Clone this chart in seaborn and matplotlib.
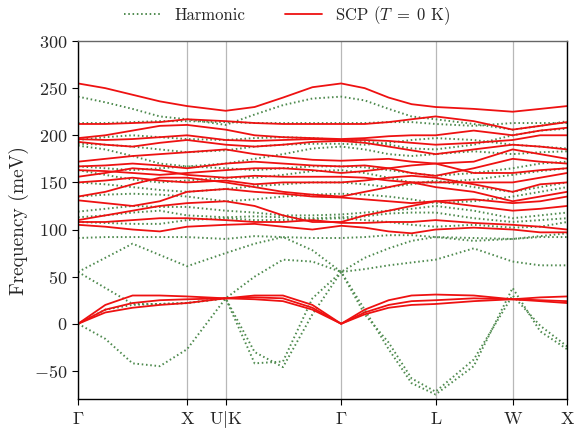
import numpy as np
import pandas as pd
import matplotlib
matplotlib.use("Agg")
import matplotlib.pyplot as plt
import seaborn as sns
from matplotlib.lines import Line2D

# ---- path (high-symmetry points, FCC distances in 2pi/a) ----
tick_pos = [0.0, 1.0, 1.354, 2.414, 3.280, 3.987, 4.487]
tick_labels = [r"$\Gamma$", "X", r"U$|$K", r"$\Gamma$", "L", "W", "X"]
kpts = [0.0, 0.25, 0.5, 0.75, 1.0, 1.354, 1.62, 1.88, 2.15, 2.414,
        2.63, 2.85, 3.06, 3.28, 3.63, 3.987, 4.24, 4.487]

# ---- harmonic bands (meV) ----
harm_1 = [0, -16, -42, -45, -27, 27, -42, -40, 27, 55, 15, -27, -63, -75, -45, 38, -8, -27]
harm_2 = [0, 15, 20, 21, 22, 27, -30, -46, 10, 55, 10, -20, -58, -72, -38, 30, -2, -24]
harm_3 = [55, 38, 21, 21, 22, 27, 50, 68, 66, 55, 58, 62, 65, 68, 80, 66, 62, 62]
harm_4 = [55, 70, 85, 73, 61, 75, 85, 92, 78, 55, 70, 80, 88, 92, 91, 90, 93, 96]
harm_5 = [91, 92, 92, 92, 92, 90, 93, 92, 91, 91, 92, 94, 94, 92, 88, 90, 92, 92]
harm_6 = [108, 107, 106, 106, 110, 112, 110, 110, 111, 112, 110, 108, 105, 103, 105, 102, 103, 108]
harm_7 = [113, 115, 118, 120, 115, 113, 114, 113, 112, 113, 114, 117, 118, 118, 112, 108, 110, 112]
harm_8 = [119, 122, 125, 124, 124, 120, 118, 115, 115, 116, 118, 120, 122, 125, 120, 112, 115, 118]
harm_9 = [135, 137, 138, 137, 135, 130, 132, 135, 137, 138, 137, 135, 132, 128, 130, 135, 140, 145]
harm_10 = [150, 148, 145, 142, 140, 143, 146, 148, 150, 150, 148, 145, 148, 152, 145, 140, 145, 150]
harm_11 = [163, 158, 153, 150, 152, 155, 155, 158, 162, 163, 160, 155, 150, 150, 153, 158, 162, 165]
harm_12 = [167, 165, 163, 165, 167, 165, 163, 165, 167, 167, 166, 163, 160, 157, 160, 165, 170, 172]
harm_13 = [189, 185, 178, 170, 167, 170, 175, 180, 186, 188, 185, 180, 178, 180, 183, 180, 182, 183]
harm_14 = [191, 190, 188, 185, 182, 184, 188, 190, 191, 191, 190, 192, 195, 197, 195, 190, 188, 186]
harm_15 = [195, 198, 200, 198, 196, 195, 197, 198, 197, 195, 194, 190, 186, 185, 190, 200, 205, 207]
harm_16 = [213, 213, 214, 215, 215, 214, 213, 213, 213, 213, 213, 214, 214, 212, 210, 213, 213, 213]
harm_17 = [241, 235, 228, 220, 217, 211, 222, 232, 239, 241, 237, 228, 220, 217, 212, 206, 210, 215]

# ---- SCP (T = 0 K) bands (meV) ----
scp_1 = [0, 20, 30, 30, 29, 27, 30, 30, 20, 0, 15, 25, 30, 31, 30, 26, 28, 29]
scp_2 = [0, 12, 17, 20, 22, 27, 26, 24, 15, 0, 10, 17, 20, 21, 24, 26, 24, 22]
scp_3 = [0, 15, 22, 25, 26, 27, 28, 27, 17, 0, 12, 20, 24, 25, 27, 26, 25, 24]
scp_4 = [105, 103, 100, 98, 103, 105, 106, 103, 100, 104, 102, 98, 96, 100, 102, 100, 97, 97]
scp_5 = [108, 108, 110, 112, 112, 110, 108, 108, 110, 107, 107, 108, 108, 110, 107, 105, 103, 100]
scp_6 = [110, 115, 120, 125, 128, 130, 125, 115, 108, 108, 115, 120, 125, 130, 125, 120, 122, 125]
scp_7 = [131, 128, 125, 130, 140, 143, 140, 138, 135, 134, 132, 130, 128, 130, 132, 128, 130, 135]
scp_8 = [135, 140, 148, 155, 155, 150, 145, 140, 137, 135, 140, 145, 150, 145, 140, 130, 135, 140]
scp_9 = [150, 152, 155, 152, 150, 152, 148, 150, 150, 150, 152, 155, 157, 155, 148, 140, 148, 150]
scp_10 = [156, 160, 165, 163, 158, 155, 157, 156, 156, 156, 155, 152, 150, 150, 150, 150, 155, 160]
scp_11 = [163, 162, 160, 158, 160, 163, 165, 165, 163, 160, 162, 165, 168, 170, 160, 160, 163, 165]
scp_12 = [167, 168, 170, 168, 165, 170, 172, 170, 168, 167, 168, 165, 160, 157, 165, 175, 172, 170]
scp_13 = [172, 175, 178, 180, 182, 185, 180, 177, 174, 173, 174, 175, 172, 170, 172, 185, 180, 175]
scp_14 = [193, 190, 188, 192, 195, 190, 188, 190, 193, 194, 192, 188, 184, 180, 185, 190, 188, 185]
scp_15 = [196, 195, 196, 198, 200, 195, 194, 195, 196, 195, 195, 194, 192, 190, 192, 195, 200, 200]
scp_16 = [197, 200, 205, 210, 211, 206, 200, 198, 197, 196, 197, 199, 200, 200, 205, 200, 205, 208]
scp_17 = [212, 212, 213, 214, 217, 215, 213, 212, 212, 212, 212, 214, 217, 220, 215, 206, 210, 214]
scp_18 = [255, 250, 243, 236, 231, 226, 230, 240, 251, 255, 250, 240, 233, 230, 228, 225, 228, 231]

harm_bands = [harm_1, harm_2, harm_3, harm_4, harm_5, harm_6, harm_7, harm_8, harm_9,
              harm_10, harm_11, harm_12, harm_13, harm_14, harm_15, harm_16, harm_17]
scp_bands = [scp_1, scp_2, scp_3, scp_4, scp_5, scp_6, scp_7, scp_8, scp_9, scp_10,
             scp_11, scp_12, scp_13, scp_14, scp_15, scp_16, scp_17, scp_18]


def to_long(bands, kind):
    rows = []
    for b, vals in enumerate(bands):
        for k, v in zip(kpts, vals):
            rows.append({"k": k, "freq": v, "band": b, "kind": kind})
    return pd.DataFrame(rows)


df_h = to_long(harm_bands, "Harmonic")
df_s = to_long(scp_bands, "SCP")

sns.set_theme(style="white")
plt.rcParams["font.family"] = "serif"
plt.rcParams["font.serif"] = ["cmr10", "DejaVu Serif"]
plt.rcParams["mathtext.fontset"] = "cm"
plt.rcParams["axes.formatter.use_mathtext"] = True
plt.rcParams["axes.unicode_minus"] = True

fig = plt.figure(figsize=(5.74, 4.32), dpi=100)
ax = fig.add_axes([0.136, 0.076, 0.852, 0.829])

harm_color = "#4e8a4e"
scp_color = "#ee1111"

for x in tick_pos:
    ax.axvline(x, color="#b8b8b8", lw=0.9, zorder=0)

sns.lineplot(data=df_h, x="k", y="freq", units="band", estimator=None,
             color=harm_color, lw=1.4, ax=ax, sort=False, legend=False,
             linestyle=(0, (0.8, 1.4)))
sns.lineplot(data=df_s, x="k", y="freq", units="band", estimator=None,
             color=scp_color, lw=1.3, ax=ax, sort=False, legend=False)

ax.set_xlim(0, tick_pos[-1])
ax.set_ylim(-80, 300)
ax.set_xticks(tick_pos)
ax.set_xticklabels(tick_labels)
ax.set_yticks(np.arange(-50, 301, 50))
ax.set_xlabel("")
ax.set_ylabel("Frequency (meV)", fontsize=14, labelpad=4)
ax.tick_params(axis="both", direction="out", length=4, width=0.8,
               labelsize=13, color="black", bottom=True, left=True)
ax.tick_params(axis="x", pad=14)
for lbl in ax.get_xticklabels():
    lbl.set_verticalalignment("baseline")

for side in ["left", "bottom", "right"]:
    ax.spines[side].set_color("black")
    ax.spines[side].set_linewidth(1.0)
ax.spines["top"].set_color("#666666")
ax.spines["top"].set_linewidth(1.0)

handles = [Line2D([], [], color=harm_color, lw=1.4, linestyle=(0, (0.8, 1.4))),
           Line2D([], [], color=scp_color, lw=1.3)]
fig.legend(handles, ["Harmonic", r"SCP ($T\;=\;0$ K)"], loc="upper center",
           bbox_to_anchor=(0.5, 1.025), ncol=2, frameon=False, fontsize=12,
           handlelength=2.2, columnspacing=2.4)

fig.savefig("out.png", dpi=100)
